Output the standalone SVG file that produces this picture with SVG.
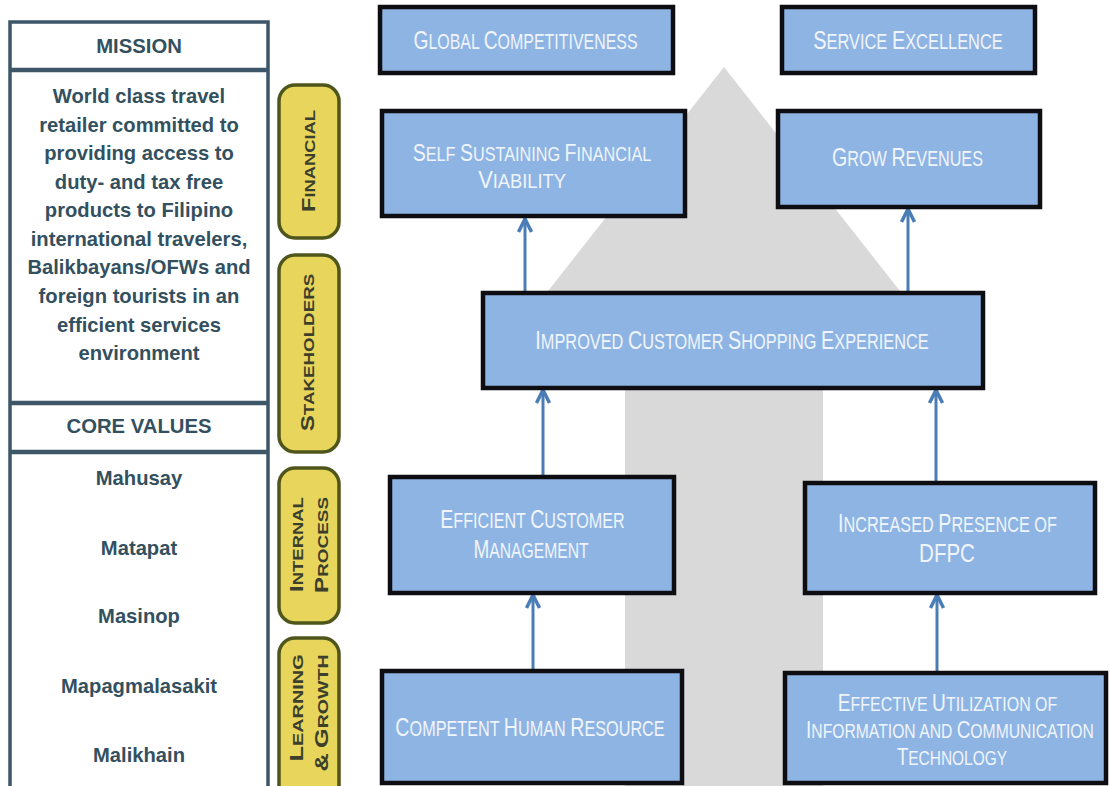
<svg xmlns="http://www.w3.org/2000/svg" width="1110" height="786" viewBox="0 0 1110 786">
<style>
.panel{fill:#ffffff;stroke:#3d5668;stroke-width:3.5}
.sep{stroke:#3d5668;stroke-width:4.5}
.lt{font-family:"Liberation Sans",Arial,sans-serif;font-weight:bold;font-size:20.2px;fill:#33505f;text-anchor:middle}
.hd{font-size:20.3px}
.tab{fill:#e7d55c;stroke:#4f561c;stroke-width:3.5}
.tt{font-family:"Liberation Sans",Arial,sans-serif;font-weight:bold;font-size:14px;fill:#3b3f2c;text-anchor:middle}
.tt .B{font-size:18px}
.box{fill:#8eb4e3;stroke:#0d0d12;stroke-width:4.5}
.bt{font-family:"Liberation Sans",Arial,sans-serif;font-size:21.5px;fill:#f0f5fc;text-anchor:middle}
.bt .B{font-size:26px}
.bt.sm{font-size:20px}
.bt.sm .B{font-size:24px}
.con{stroke:#4a7cb5;stroke-width:3;fill:none;marker-end:url(#ah)}
.gray{fill:#d9d9d9}
</style>
<defs>
<marker id="ah" markerUnits="userSpaceOnUse" viewBox="-2 -10 18 20" markerWidth="18" markerHeight="20" refX="13" refY="0" orient="auto" overflow="visible">
<path d="M0,-6.5 L13,0 L0,6.5" fill="none" stroke="#4a7cb5" stroke-width="3.5" stroke-linejoin="miter"/>
</marker>
</defs>
<rect width="1110" height="786" fill="#ffffff"/>

<g id="background-arrow">
<polygon class="gray" points="724,67 907,300 823,300 823,800 625,800 625,300 541,300"/>
</g>

<g id="left-panel">
<rect class="panel" x="10" y="22" width="258" height="800"/>
<line class="sep" x1="10" y1="70" x2="268" y2="70"/>
<line class="sep" x1="10" y1="403" x2="268" y2="403"/>
<line class="sep" x1="10" y1="452" x2="268" y2="452"/>
<text class="lt hd" x="139" y="53">MISSION</text>
<text class="lt" x="139" y="103">World class travel</text>
<text class="lt" x="139" y="131.6">retailer committed to</text>
<text class="lt" x="139" y="160.1">providing access to</text>
<text class="lt" x="139" y="188.7">duty- and tax free</text>
<text class="lt" x="139" y="217.2">products to Filipino</text>
<text class="lt" x="139" y="245.8">international travelers,</text>
<text class="lt" x="139" y="274.4">Balikbayans/OFWs  and</text>
<text class="lt" x="139" y="302.9">foreign tourists in an</text>
<text class="lt" x="139" y="331.5">efficient services</text>
<text class="lt" x="139" y="360">environment</text>
<text class="lt hd" x="139" y="433">CORE VALUES</text>
<text class="lt" x="139" y="485">Mahusay</text>
<text class="lt" x="139" y="555">Matapat</text>
<text class="lt" x="139" y="623">Masinop</text>
<text class="lt" x="139" y="693">Mapagmalasakit</text>
<text class="lt" x="139" y="762">Malikhain</text>
</g>

<g id="tab-financial">
<rect class="tab" x="279" y="85" width="60" height="153" rx="16"/>
<text class="tt" transform="translate(315,161) rotate(-90) scale(1.31,1)"><tspan class="B">F</tspan>INANCIAL</text>
</g>
<g id="tab-stakeholders">
<rect class="tab" x="279" y="255" width="60" height="197" rx="16"/>
<text class="tt" transform="translate(314,352.5) rotate(-90) scale(1.34,1)"><tspan class="B">S</tspan>TAKEHOLDERS</text>
</g>
<g id="tab-internal-process">
<rect class="tab" x="279" y="468" width="60" height="155" rx="16"/>
<text class="tt" transform="translate(303,544.5) rotate(-90) scale(1.32,1)"><tspan class="B">I</tspan>NTERNAL</text>
<text class="tt" transform="translate(328,545) rotate(-90) scale(1.35,1)"><tspan class="B">P</tspan>ROCESS</text>
</g>
<g id="tab-learning-growth">
<rect class="tab" x="279" y="638" width="60" height="170" rx="16"/>
<text class="tt" transform="translate(303,708) rotate(-90) scale(1.42,1)"><tspan class="B">L</tspan>EARNING</text>
<text class="tt" transform="translate(328,713) rotate(-90) scale(1.4,1)"><tspan class="B">&amp;</tspan> <tspan class="B">G</tspan>ROWTH</text>
</g>

<g id="connectors">
<line class="con" x1="525" y1="293" x2="525" y2="219"/>
<line class="con" x1="908" y1="293" x2="908" y2="209"/>
<line class="con" x1="543" y1="477" x2="543" y2="390"/>
<line class="con" x1="936" y1="483" x2="936" y2="390"/>
<line class="con" x1="533" y1="671" x2="533" y2="595"/>
<line class="con" x1="937" y1="673" x2="937" y2="595"/>
</g>

<g id="node-global-competitiveness">
<rect class="box" x="380" y="7" width="293" height="66"/>
<text class="bt" transform="translate(525.5,49) scale(0.742,1)"><tspan class="B">G</tspan>LOBAL <tspan class="B">C</tspan>OMPETITIVENESS</text>
</g>
<g id="node-service-excellence">
<rect class="box" x="782" y="7" width="253" height="66"/>
<text class="bt" transform="translate(908,49) scale(0.764,1)"><tspan class="B">S</tspan>ERVICE <tspan class="B">E</tspan>XCELLENCE</text>
</g>
<g id="node-self-sustaining">
<rect class="box" x="382" y="111" width="303" height="105"/>
<text class="bt sm" transform="translate(532,161) scale(0.812,1)"><tspan class="B">S</tspan>ELF <tspan class="B">S</tspan>USTAINING <tspan class="B">F</tspan>INANCIAL</text>
<text class="bt sm" transform="translate(522,188) scale(0.914,1)"><tspan class="B">V</tspan>IABILITY</text>
</g>
<g id="node-grow-revenues">
<rect class="box" x="778" y="111" width="262" height="96"/>
<text class="bt" transform="translate(907.5,166) scale(0.754,1)"><tspan class="B">G</tspan>ROW <tspan class="B">R</tspan>EVENUES</text>
</g>
<g id="node-improved">
<rect class="box" x="483" y="293" width="500" height="95"/>
<text class="bt" transform="translate(732,349) scale(0.76,1)"><tspan class="B">I</tspan>MPROVED <tspan class="B">C</tspan>USTOMER <tspan class="B">S</tspan>HOPPING <tspan class="B">E</tspan>XPERIENCE</text>
</g>
<g id="node-efficient">
<rect class="box" x="390" y="477" width="284" height="116"/>
<text class="bt" transform="translate(532.5,528) scale(0.751,1)"><tspan class="B">E</tspan>FFICIENT <tspan class="B">C</tspan>USTOMER</text>
<text class="bt" transform="translate(531,558) scale(0.73,1)"><tspan class="B">M</tspan>ANAGEMENT</text>
</g>
<g id="node-increased">
<rect class="box" x="805" y="483" width="290" height="110"/>
<text class="bt" transform="translate(947.5,532) scale(0.756,1)"><tspan class="B">I</tspan>NCREASED <tspan class="B">P</tspan>RESENCE OF</text>
<text class="bt" transform="translate(947,562) scale(0.79,1)"><tspan class="B">DFPC</tspan></text>
</g>
<g id="node-competent">
<rect class="box" x="382" y="671" width="300" height="112"/>
<text class="bt" transform="translate(530,736) scale(0.755,1)"><tspan class="B">C</tspan>OMPETENT <tspan class="B">H</tspan>UMAN <tspan class="B">R</tspan>ESOURCE</text>
</g>
<g id="node-effective">
<rect class="box" x="785" y="673" width="321" height="110"/>
<text class="bt sm" transform="translate(947.5,711) scale(0.798,1)"><tspan class="B">E</tspan>FFECTIVE <tspan class="B">U</tspan>TILIZATION OF</text>
<text class="bt sm" transform="translate(950,738) scale(0.786,1)"><tspan class="B">I</tspan>NFORMATION AND <tspan class="B">C</tspan>OMMUNICATION</text>
<text class="bt sm" transform="translate(952,765) scale(0.774,1)"><tspan class="B">T</tspan>ECHNOLOGY</text>
</g>
</svg>
